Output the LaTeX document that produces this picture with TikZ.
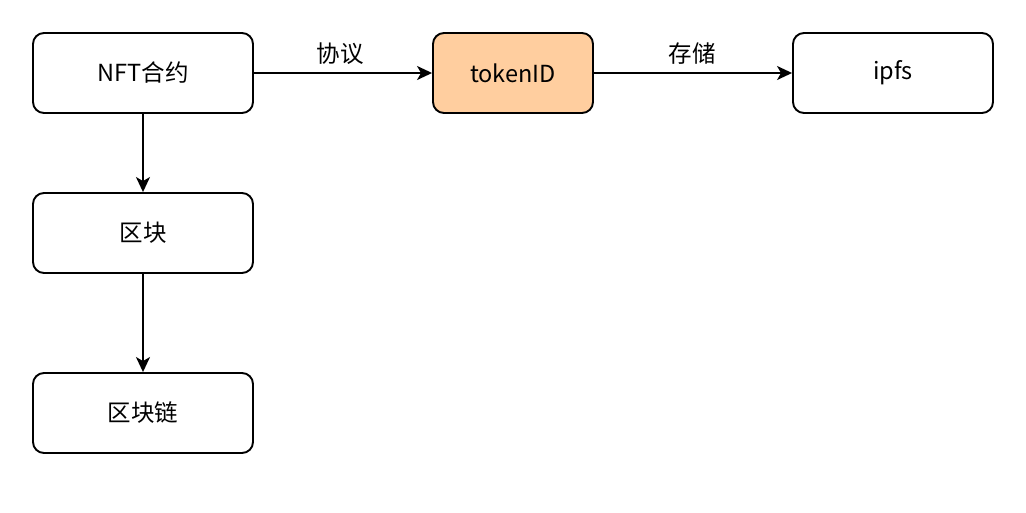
\documentclass[tikz,border=0pt]{standalone}
\usepackage{fontspec}
\setmainfont{Noto Sans CJK SC}
\usetikzlibrary{arrows.meta}
\begin{document}
\begin{tikzpicture}[x=1pt,y=-1pt,
  box/.style={draw=black, line width=1.9pt, rounded corners=11pt, minimum width=220pt, minimum height=80pt, fill=white, inner sep=0pt, font=\fontsize{23.5}{28}\selectfont},
  conn/.style={draw=black, line width=1.9pt, -{Stealth[length=15pt,width=14pt,inset=4pt]}},
  lbl/.style={font=\fontsize{23.5}{28}\selectfont, inner sep=0pt}]
\useasboundingbox (0,0) rectangle (1026,512);
\node[box] (nft) at (143,73) {NFT合约};
\node[box, minimum width=160pt, fill={rgb,255:red,255;green,206;blue,159}] (tok) at (513,73) {tokenID};
\node[box, minimum width=200pt] (ipfs) at (893,73) {ipfs};
\node[box] (qk) at (143,233) {区块};
\node[box] (qkl) at (143,413) {区块链};
\draw[conn] (nft) -- (tok);
\draw[conn] (tok) -- (ipfs);
\draw[conn] (nft) -- (qk);
\draw[conn] (qk) -- (qkl);
\node[lbl] (l1) at (340,54) {协议};
\node[lbl] (l2) at (692,54) {存储};
\end{tikzpicture}
\end{document}
